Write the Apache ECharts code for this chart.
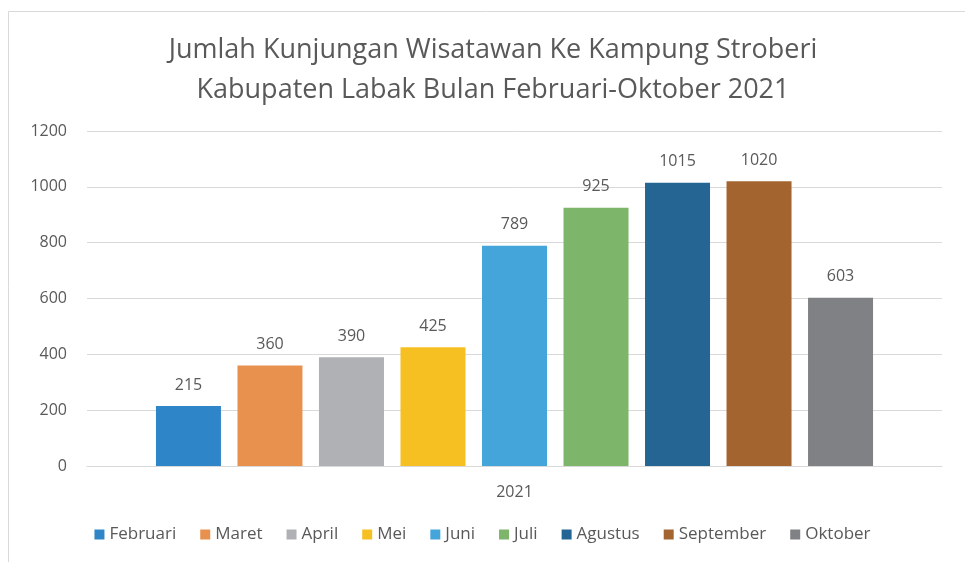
<!DOCTYPE html>
<html>
<head>
<meta charset="utf-8">
<script src="https://cdn.jsdelivr.net/npm/echarts@6/dist/echarts.min.js"></script>
<style>
  html, body { margin: 0; padding: 0; background: #fff; }
  #chart { width: 965px; height: 562px; }
</style>
</head>
<body>
<div id="chart"></div>
<script>
  const categories = ["2021"];
  const months = ["Februari", "Maret", "April", "Mei", "Juni", "Juli", "Agustus", "September", "Oktober"];
  const visitors = [215, 360, 390, 425, 789, 925, 1015, 1020, 603];
  const colors = ["#2E86C8", "#E8914F", "#B0B1B4", "#F7C022", "#44A5DB", "#7DB56A", "#256594", "#A46430", "#808184"];

  const font = "'Open Sans', 'Noto Sans', sans-serif";
  const mc = echarts.init(document.getElementById("chart"));

  const series = months.map((m, i) => ({
    name: m,
    type: "bar",
    data: [visitors[i]],
    barWidth: 65,
    barGap: "25.4%",
    itemStyle: { color: colors[i] },
    label: {
      show: true,
      position: "top",
      distance: 13,
      color: "#595959",
      fontSize: 16,
      fontFamily: font,
    },
  }));

  const option = {
    animation: false,
    title: {
      text: "Jumlah Kunjungan Wisatawan Ke Kampung Stroberi\nKabupaten Labak Bulan Februari-Oktober 2021",
      left: 488,
      textAlign: "center",
      top: 25,
      textStyle: {
        color: "#595959",
        fontSize: 27,
        fontWeight: "normal",
        fontFamily: font,
        lineHeight: 40,
      },
    },
    graphic: [
      {
        type: "rect",
        shape: { x: 8.5, y: 11.5, width: 970, height: 560 },
        style: { fill: "none", stroke: "#d9d9d9", lineWidth: 1 },
        silent: true,
      },
    ],
    legend: {
      bottom: 14,
      left: "center",
      icon: "rect",
      itemWidth: 10,
      itemHeight: 10,
      itemGap: 24,
      textStyle: { color: "#595959", fontSize: 17, fontFamily: font },
      data: months,
    },
    grid: { left: 87, right: 23, top: 131, bottom: 96, containLabel: false },
    xAxis: {
      type: "category",
      data: categories,
      axisLine: { lineStyle: { color: "#d9d9d9" } },
      axisTick: { show: false },
      axisLabel: { color: "#595959", fontSize: 16, fontFamily: font, margin: 18 },
    },
    yAxis: {
      type: "value",
      min: 0,
      max: 1200,
      interval: 200,
      axisLine: { show: false },
      axisTick: { show: false },
      splitLine: { lineStyle: { color: "#d9d9d9" } },
      axisLabel: {
        color: "#595959",
        fontSize: 16,
        fontFamily: font,
        margin: 20,
        formatter: (v) => String(v),
      },
    },
    series: series,
  };
  mc.setOption(option);
</script>
</body>
</html>
